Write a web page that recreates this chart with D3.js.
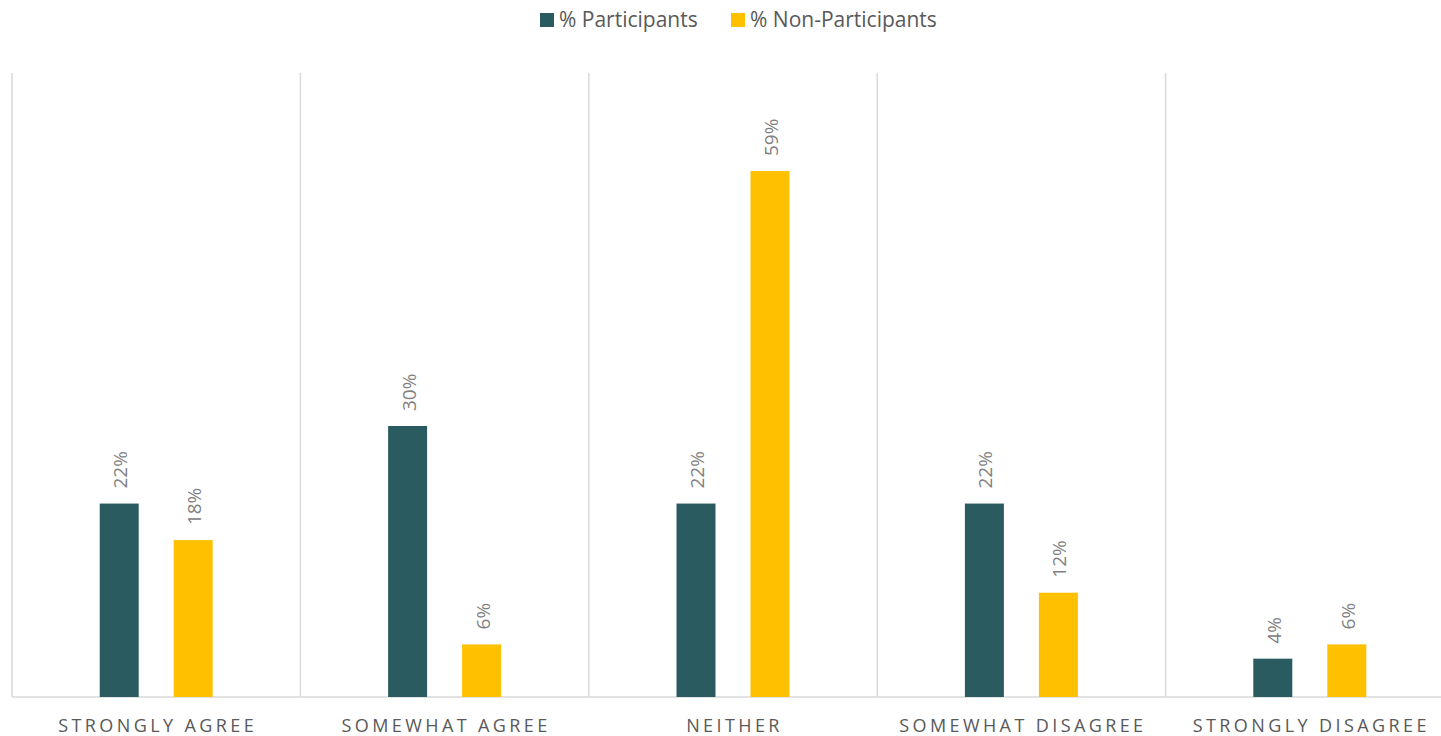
<!DOCTYPE html>
<html>
<head>
<meta charset="utf-8">
<script src="https://cdn.jsdelivr.net/npm/d3@7"></script>
<style>
  body { margin: 0; background: #fff; }
  text { font-family: "Open Sans", "Liberation Sans", sans-serif; }
</style>
</head>
<body>
<svg width="1441" height="736"></svg>
<script>
// chart data
const categories = ["STRONGLY AGREE", "SOMEWHAT AGREE", "NEITHER", "SOMEWHAT DISAGREE", "STRONGLY DISAGREE"];
const seriesNames = ["% Participants", "% Non-Participants"];
const participants = [0.217, 0.304, 0.217, 0.217, 0.043];
const nonParticipants = [0.176, 0.059, 0.59, 0.117, 0.059];
const colours = ["#2A5B61", "#FFC000"];

let svg = d3.select("svg"),
    width = +svg.attr("width"),
    height = +svg.attr("height");

const plotLeft = 12, plotRight = 1454, plotTop = 73, plotBottom = 697;

let x = d3.scaleBand()
    .domain(categories)
    .range([plotLeft, plotRight])
    .padding(0);

let y = d3.scaleLinear()
    .domain([0, 0.70])
    .range([plotBottom, plotTop]);

const barWidth = 39, barGap = 35;
let xInner = function (i) {
    return i === 0 ? -barGap / 2 - barWidth : barGap / 2;
};

// separators between categories
let seps = d3.range(categories.length + 1).map(function (i) {
    return plotLeft + i * x.bandwidth();
});
svg.append("g")
    .selectAll("line")
    .data(seps)
    .join("line")
    .attr("x1", d => d).attr("x2", d => d)
    .attr("y1", plotTop).attr("y2", plotBottom)
    .attr("stroke", "#d9d9d9")
    .attr("stroke-width", 1.5);

// baseline
svg.append("line")
    .attr("x1", plotLeft).attr("x2", plotRight)
    .attr("y1", plotBottom).attr("y2", plotBottom)
    .attr("stroke", "#d9d9d9")
    .attr("stroke-width", 1.5);

const series = [participants, nonParticipants];
const fmt = d3.format(".0%");

series.forEach(function (vals, si) {
    let g = svg.append("g");
    g.selectAll("rect")
        .data(vals)
        .join("rect")
        .attr("x", (d, i) => x(categories[i]) + x.bandwidth() / 2 + xInner(si))
        .attr("y", d => y(d))
        .attr("width", barWidth)
        .attr("height", d => plotBottom - y(d))
        .attr("fill", colours[si]);

    // value labels, rotated
    g.selectAll("text")
        .data(vals)
        .join("text")
        .attr("transform", function (d, i) {
            let cx = x(categories[i]) + x.bandwidth() / 2 + xInner(si) + barWidth / 2;
            return "translate(" + (cx + 8) + "," + (y(d) - 15) + ") rotate(-90)";
        })
        .attr("text-anchor", "start")
        .attr("font-size", 19)
        .attr("fill", "#808080")
        .text(d => fmt(d));
});

// category labels
svg.append("g")
    .selectAll("text")
    .data(categories)
    .join("text")
    .attr("x", d => x(d) + x.bandwidth() / 2 + 1.5)
    .attr("y", 732)
    .attr("text-anchor", "middle")
    .attr("font-size", 18)
    .attr("letter-spacing", 3.4)
    .attr("fill", "#595959")
    .text(d => d);

// legend
const legendX = [540, 731];
let legend = svg.append("g")
    .selectAll("g")
    .data(seriesNames)
    .join("g")
    .attr("transform", (d, i) => "translate(" + legendX[i] + ",13)");

legend.append("rect")
    .attr("width", 14).attr("height", 14)
    .attr("fill", (d, i) => colours[i]);

legend.append("text")
    .attr("x", 19)
    .attr("y", 14)
    .attr("font-size", 21)
    .attr("fill", "#595959")
    .text(d => d);
</script>
</body>
</html>
